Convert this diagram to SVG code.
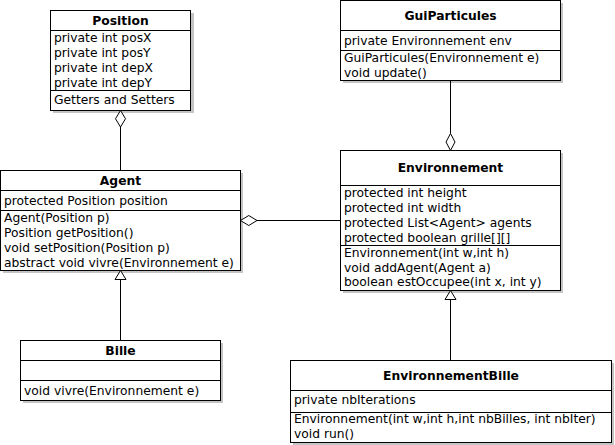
<svg xmlns="http://www.w3.org/2000/svg" width="615" height="445" viewBox="0 0 615 445">
<style>
  .box{fill:#fff;stroke:#000;stroke-width:1}
  .shadow{fill:#c4c4c4;stroke:none}
  .sep{stroke:#000;stroke-width:1}
  text{font-family:"DejaVu Sans",sans-serif;font-size:12.3px;fill:#000}
  .title{font-weight:bold;text-anchor:middle}
  .edge{stroke:#000;stroke-width:1;fill:none}
  .head{stroke:#000;stroke-width:1;fill:#fff}
</style>
<rect width="615" height="445" fill="#fff"/>

<g id="Position">
  <rect class="shadow" x="53" y="13" width="141" height="100"/>
  <rect class="box" x="50.5" y="10.5" width="140" height="100"/>
  <line class="sep" x1="50.5" y1="30.5" x2="190.5" y2="30.5"/>
  <line class="sep" x1="50.5" y1="90.5" x2="190.5" y2="90.5"/>
  <text class="title" x="120.5" y="25">Position</text>
  <text x="54" y="42">private int posX</text>
  <text x="54" y="57">private int posY</text>
  <text x="54" y="72">private int depX</text>
  <text x="54" y="87">private int depY</text>
  <text x="54" y="104">Getters and Setters</text>
</g>

<g id="Agent">
  <rect class="shadow" x="3" y="173" width="240" height="100"/>
  <rect class="box" x="0.5" y="170.5" width="240" height="100"/>
  <line class="sep" x1="0.5" y1="190.5" x2="240.5" y2="190.5"/>
  <line class="sep" x1="0.5" y1="210.5" x2="240.5" y2="210.5"/>
  <text class="title" x="120.5" y="185">Agent</text>
  <text x="4" y="205">protected Position position</text>
  <text x="4" y="222">Agent(Position p)</text>
  <text x="4" y="237">Position getPosition()</text>
  <text x="4" y="252">void setPosition(Position p)</text>
  <text x="4" y="267">abstract void vivre(Environnement e)</text>
</g>

<g id="GuiParticules">
  <rect class="shadow" x="343" y="3" width="220" height="80"/>
  <rect class="box" x="340.5" y="0.5" width="220" height="80"/>
  <line class="sep" x1="340.5" y1="30.5" x2="560.5" y2="30.5"/>
  <line class="sep" x1="340.5" y1="50.5" x2="560.5" y2="50.5"/>
  <text class="title" x="450.5" y="20">GuiParticules</text>
  <text x="344" y="45">private Environnement env</text>
  <text x="344" y="62">GuiParticules(Environnement e)</text>
  <text x="344" y="77">void update()</text>
</g>

<g id="Environnement">
  <rect class="shadow" x="343" y="153" width="220" height="140"/>
  <rect class="box" x="340.5" y="150.5" width="220" height="140"/>
  <line class="sep" x1="340.5" y1="185.5" x2="560.5" y2="185.5"/>
  <line class="sep" x1="340.5" y1="245.5" x2="560.5" y2="245.5"/>
  <text class="title" x="450.5" y="171.5">Environnement</text>
  <text x="344" y="197">protected int height</text>
  <text x="344" y="212">protected int width</text>
  <text x="344" y="227">protected List&lt;Agent&gt; agents</text>
  <text x="344" y="242">protected boolean grille[][]</text>
  <text x="344" y="257">Environnement(int w,int h)</text>
  <text x="344" y="271.5">void addAgent(Agent a)</text>
  <text x="344" y="286">boolean estOccupee(int x, int y)</text>
</g>

<g id="Bille">
  <rect class="shadow" x="23" y="343" width="200" height="60"/>
  <rect class="box" x="20.5" y="340.5" width="200" height="60"/>
  <line class="sep" x1="20.5" y1="360.5" x2="220.5" y2="360.5"/>
  <line class="sep" x1="20.5" y1="380.5" x2="220.5" y2="380.5"/>
  <text class="title" x="120.5" y="355">Bille</text>
  <text x="24" y="395">void vivre(Environnement e)</text>
</g>

<g id="EnvironnementBille">
  <rect class="shadow" x="293" y="363" width="321" height="82"/>
  <rect class="box" x="290.5" y="360.5" width="321" height="82"/>
  <line class="sep" x1="290.5" y1="390.5" x2="611.5" y2="390.5"/>
  <line class="sep" x1="290.5" y1="412.5" x2="611.5" y2="412.5"/>
  <text class="title" x="451" y="380">EnvironnementBille</text>
  <text x="294" y="404">private nbIterations</text>
  <text x="294" y="423">Environnement(int w,int h,int nbBilles, int nbIter)</text>
  <text x="294" y="438">void run()</text>
</g>

<g id="connectors">
  <line class="edge" x1="120.5" y1="127" x2="120.5" y2="170.5"/>
  <polygon class="head" points="120.5,110.5 125.5,118.75 120.5,127 115.5,118.75"/>
  <line class="edge" x1="257" y1="220.5" x2="340.5" y2="220.5"/>
  <polygon class="head" points="240.5,220.5 248.75,215.5 257,220.5 248.75,225.5"/>
  <line class="edge" x1="450.5" y1="80.5" x2="450.5" y2="133.5"/>
  <polygon class="head" points="450.5,133.5 455,142 450.5,150.5 446,142"/>
  <line class="edge" x1="120.5" y1="279.5" x2="120.5" y2="340.5"/>
  <polygon class="head" points="120.5,270.5 126,279.5 115,279.5"/>
  <line class="edge" x1="450.5" y1="299.5" x2="450.5" y2="360.5"/>
  <polygon class="head" points="450.5,290.5 456,299.5 445,299.5"/>
</g>
</svg>
